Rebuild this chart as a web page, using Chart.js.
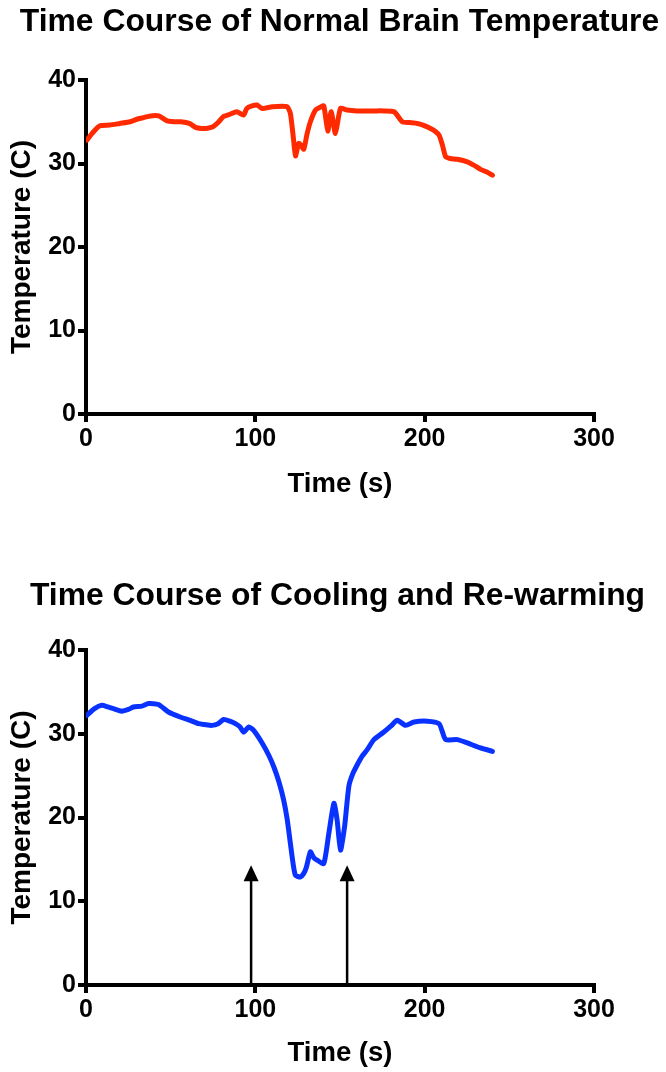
<!DOCTYPE html>
<html>
<head>
<meta charset="utf-8">
<script src="https://cdn.jsdelivr.net/npm/chart.js@4"></script>
<style>
  html, body { margin: 0; padding: 0; background: #fff; }
  canvas { display: block; }
</style>
</head>
<body>
<canvas id="normal" width="666" height="536"></canvas>
<canvas id="cooling" width="666" height="536"></canvas>
<script>
// Brain temperature traces, time in seconds, temperature in C
const normalTime = [0.5, 4, 8, 14, 20, 26, 30, 34, 38, 43, 48, 52, 56, 61, 65, 68, 71, 75, 78, 81, 85, 89, 93, 95, 98, 101, 104, 110, 118.7, 120.7, 122.5, 123.7, 125.6, 127, 128.6, 130.5, 132.5, 135.5, 138, 140.4, 142.8, 144.8, 147.3, 150.3, 154.2, 160, 170, 176, 182, 186.8, 191, 195.7, 199, 203.5, 206, 208.5, 210.5, 212.4, 215, 219.3, 225.2, 229, 233, 236.5, 240];
const normalTemp = [32.8, 33.7, 34.5, 34.6, 34.8, 35.0, 35.3, 35.5, 35.7, 35.7, 35.1, 35.0, 35.0, 34.8, 34.3, 34.2, 34.2, 34.4, 34.9, 35.6, 35.9, 36.2, 35.8, 36.6, 36.9, 37.0, 36.6, 36.8, 36.8, 36.0, 33.0, 30.9, 32.4, 32.2, 31.7, 33.5, 35.0, 36.4, 36.7, 36.9, 33.9, 36.2, 33.6, 36.6, 36.4, 36.3, 36.3, 36.3, 36.2, 35.0, 34.9, 34.8, 34.6, 34.2, 33.9, 33.4, 32.2, 30.8, 30.6, 30.5, 30.2, 29.8, 29.3, 29.0, 28.6];

const coolingTime = [0.5, 5, 9.3, 13, 16.2, 21.1, 25, 28, 33, 36.9, 42.8, 48.7, 55.6, 61.5, 66.5, 70, 74.4, 78, 81.3, 85, 88.2, 91, 93.1, 96.1, 99, 104, 108, 111, 114, 116.7, 118.8, 120.7, 122.3, 123.7, 126.6, 128.5, 130.2, 132.5, 134.5, 136.5, 140.4, 143.4, 146.4, 148.3, 150.3, 152.7, 155.2, 157.5, 160.2, 163, 166.1, 170, 175.9, 180, 183.8, 188.8, 193.7, 201.6, 208.5, 210.5, 212.4, 219.3, 225.2, 233, 240];
const coolingTemp = [32.2, 33.0, 33.4, 33.2, 33.0, 32.7, 32.9, 33.2, 33.3, 33.6, 33.5, 32.6, 32.0, 31.6, 31.2, 31.1, 31.0, 31.2, 31.7, 31.5, 31.2, 30.8, 30.2, 30.8, 30.4, 28.9, 27.4, 26.0, 24.2, 22.1, 19.8, 16.9, 14.5, 13.1, 12.9, 13.3, 14.1, 15.9, 15.2, 14.9, 14.5, 18.1, 21.7, 19.7, 16.1, 18.9, 23.7, 25.2, 26.3, 27.3, 28.1, 29.3, 30.2, 30.9, 31.6, 31.0, 31.4, 31.5, 31.2, 30.2, 29.3, 29.3, 28.9, 28.3, 27.9];

// cooling start / re-warming markers
const arrowTimes = [97.5, 154.2];
const arrowTip = 14.3;

const xTicks = [0, 100, 200, 300];
const yTicks = [0, 10, 20, 30, 40];

const FONT = '"Liberation Sans", Arial, Helvetica, sans-serif';

// chart heading, centred at a fixed spot
const headingPlugin = {
  id: 'heading',
  afterDraw(chart, args, opts) {
    const ctx = chart.ctx;
    ctx.save();
    ctx.font = 'bold 31.85px ' + FONT;
    ctx.fillStyle = '#000';
    ctx.textAlign = 'center';
    ctx.textBaseline = 'middle';
    ctx.fillText(opts.text, opts.x, opts.y);
    ctx.restore();
  }
};

const arrowPlugin = {
  id: 'arrows',
  afterDatasetsDraw(chart, args, opts) {
    if (!opts.times) return;
    const { ctx, scales: { x, y } } = chart;
    const base = y.getPixelForValue(0);
    const tip = y.getPixelForValue(opts.tip);
    ctx.save();
    ctx.strokeStyle = '#000';
    ctx.fillStyle = '#000';
    ctx.lineWidth = 2.5;
    opts.times.forEach(t => {
      const px = x.getPixelForValue(t);
      ctx.beginPath();
      ctx.moveTo(px, base);
      ctx.lineTo(px, tip + 14);
      ctx.stroke();
      ctx.beginPath();
      ctx.moveTo(px, tip);
      ctx.lineTo(px - 7.5, tip + 16);
      ctx.lineTo(px + 7.5, tip + 16);
      ctx.closePath();
      ctx.fill();
    });
    ctx.restore();
  }
};

function axisOpts(ticks, extra) {
  return Object.assign({
    type: 'linear',
    min: ticks[0],
    max: ticks[ticks.length - 1],
    afterBuildTicks: s => { s.ticks = ticks.map(v => ({ value: v })); },
    border: { display: true, color: '#000', width: 4 },
    grid: { drawOnChartArea: false, color: '#000', lineWidth: 4, tickLength: 8 },
    ticks: { color: '#000', font: { family: FONT, size: 25, weight: 'bold' }, padding: 2 }
  }, extra);
}

function makeChart(id, title, xs, ys, color, lay, arrows) {
  return new Chart(document.getElementById(id), {
    type: 'line',
    data: {
      datasets: [{
        data: xs.map((t, i) => ({ x: t, y: ys[i] })),
        borderColor: color,
        borderWidth: 5,
        pointRadius: 0,
        tension: 0.2,
        borderJoinStyle: 'round',
        borderCapStyle: 'round'
      }]
    },
    options: {
      responsive: false,
      animation: false,
      layout: { padding: { top: lay.top, left: 0, right: 0, bottom: 0 } },
      plugins: {
        legend: { display: false },
        tooltip: { enabled: false },
        title: { display: false },
        heading: { text: title, x: lay.titleX, y: lay.titleY },
        arrows: arrows || {}
      },
      scales: {
        x: axisOpts(xTicks, {
          afterFit: s => { s.height = lay.xHeight; },
          title: { display: true, text: 'Time (s)', color: '#000',
                   font: { family: FONT, size: 27.5, weight: 'bold' },
                   padding: { top: 0, bottom: lay.xTitlePad } }
        }),
        y: axisOpts(yTicks, {
          afterFit: s => { s.width = 86; },
          title: { display: true, text: 'Temperature (C)', color: '#000',
                   font: { family: FONT, size: 28, weight: 'bold' },
                   padding: { top: 5, bottom: 0 } }
        }),
        // empty right-hand gutter so the plot stops at 300 s
        gutter: {
          type: 'linear',
          position: 'right',
          display: true,
          border: { display: false },
          grid: { display: false },
          ticks: { display: false },
          afterFit: s => { s.width = 72; }
        }
      }
    },
    plugins: [headingPlugin, arrowPlugin]
  });
}

makeChart('normal', 'Time Course of Normal Brain Temperature', normalTime, normalTemp, '#ff2a00',
  { top: 80, titleX: 339.5, titleY: 22, xHeight: 122, xTitlePad: 35 });

makeChart('cooling', 'Time Course of Cooling and Re-warming', coolingTime, coolingTemp, '#0a32ff',
  { top: 114, titleX: 337.5, titleY: 60, xHeight: 87, xTitlePad: 2 },
  { times: arrowTimes, tip: arrowTip });
</script>
</body>
</html>
